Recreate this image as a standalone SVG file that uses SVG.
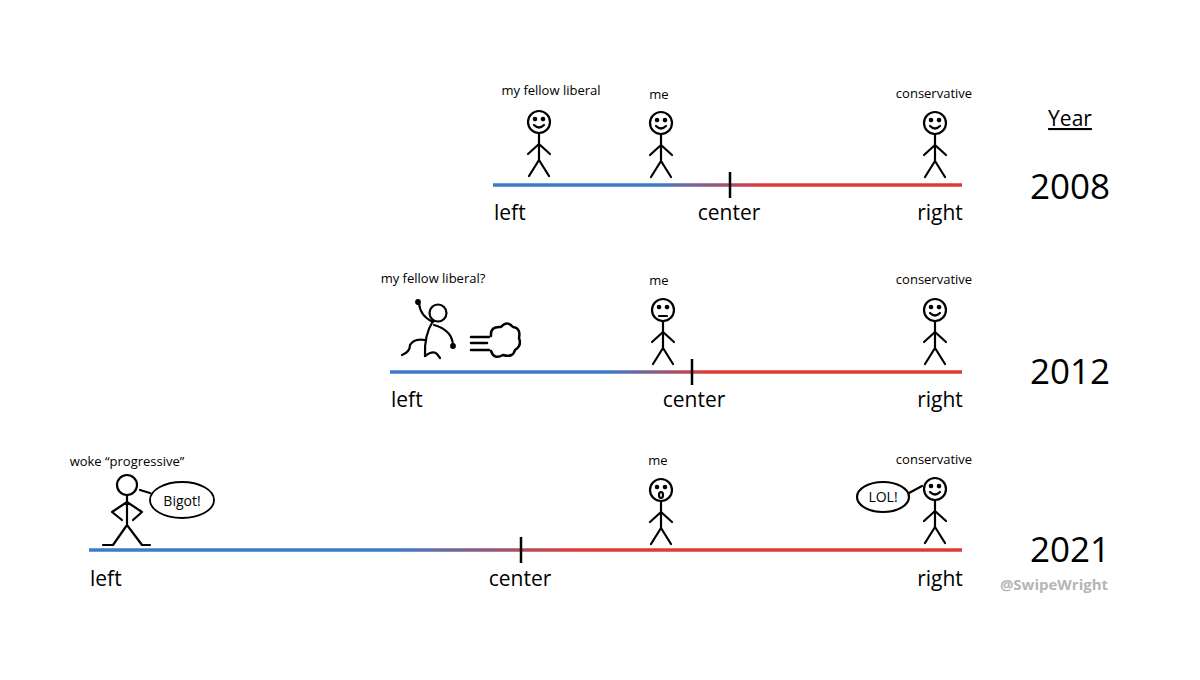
<svg xmlns="http://www.w3.org/2000/svg" width="1200" height="680" viewBox="0 0 1200 680">
<style>
text{font-family:"Open Sans","Liberation Sans",sans-serif;fill:#000}
.s{font-size:13px;text-anchor:middle}
.a{font-size:21px}
.m{text-anchor:middle}
.y{font-size:35px;text-anchor:middle}
.k{stroke:#000;stroke-width:2.2;fill:none;stroke-linecap:round;stroke-linejoin:round}
.ax{stroke-width:3.5;fill:none}
</style>
<defs>
<g id="fig" class="k"><circle r="11" cx="0" cy="0" fill="#fff"/><path d="M0,11V38M0,22L-11,32M0,22L11,32M0,38L-10,54M0,38L10,54"/><circle cx="-4" cy="-3" r="1.2" fill="#000"/><circle cx="4" cy="-3" r="1.2" fill="#000"/></g>
<path id="smile" class="k" d="M-5,3Q0,8 5,3"/>
<linearGradient id="g1" gradientUnits="userSpaceOnUse" x1="493" x2="962"><stop offset="0.35" stop-color="#3d7ac9"/><stop offset="0.58" stop-color="#e03a35"/></linearGradient>
<linearGradient id="g2" gradientUnits="userSpaceOnUse" x1="390" x2="962"><stop offset="0.38" stop-color="#3d7ac9"/><stop offset="0.56" stop-color="#e03a35"/></linearGradient>
<linearGradient id="g3" gradientUnits="userSpaceOnUse" x1="89" x2="962"><stop offset="0.35" stop-color="#3d7ac9"/><stop offset="0.56" stop-color="#e03a35"/></linearGradient>
</defs>
<rect width="1200" height="680" fill="#fff"/>
<g id="axes">
<line x1="493" y1="185" x2="962" y2="185" class="ax" stroke="url(#g1)"/>
<line x1="730" y1="172" x2="730" y2="198" stroke="#000" stroke-width="2.5"/>
<line x1="390" y1="372" x2="962" y2="372" class="ax" stroke="url(#g2)"/>
<line x1="692" y1="359" x2="692" y2="385" stroke="#000" stroke-width="2.5"/>
<line x1="89" y1="550" x2="962" y2="550" class="ax" stroke="url(#g3)"/>
<line x1="521" y1="537" x2="521" y2="563" stroke="#000" stroke-width="2.5"/>
</g>
<g id="labels">
<text x="1070" y="126" class="a m" text-decoration="underline">Year</text>
<text x="1070" y="199" class="y">2008</text>
<text x="1070" y="384" class="y">2012</text>
<text x="1070" y="562" class="y">2021</text>
<text x="494" y="220" class="a">left</text><text x="729" y="220" class="a m">center</text><text x="940" y="220" class="a m">right</text>
<text x="391" y="407" class="a">left</text><text x="694" y="407" class="a m">center</text><text x="940" y="407" class="a m">right</text>
<text x="90" y="586" class="a">left</text><text x="520" y="586" class="a m">center</text><text x="940" y="586" class="a m">right</text>
<text x="1054" y="590" class="m" style="font-size:15px;font-weight:bold;fill:#b5b5b5">@SwipeWright</text>
</g>
<g id="y2008">
<text x="551" y="95" class="s">my fellow liberal</text><use href="#fig" x="539" y="122"/><use href="#smile" x="539" y="122"/>
<text x="659" y="99" class="s">me</text><use href="#fig" x="661" y="123"/><use href="#smile" x="661" y="123"/>
<text x="934" y="98" class="s">conservative</text><use href="#fig" x="935" y="123"/><use href="#smile" x="935" y="123"/>
</g>
<g id="y2012">
<text x="433" y="283" class="s">my fellow liberal?</text>
<g class="k" stroke-width="3">
<circle cx="438" cy="313" r="8.5"/>
<path d="M433,321Q424,335 425,356"/>
<path d="M433,322Q420,316 419,303"/><circle cx="418" cy="302" r="1.8" fill="#000"/>
<path d="M434,325Q452,330 453,345"/><circle cx="453" cy="346" r="1.8" fill="#000"/>
<path d="M425,340Q414,338 410,345Q410,352 402,355"/>
<path d="M425,356Q433,350 437,354L440,358"/>
<path d="M471,337H489M471,343H487M471,350H489" stroke-width="2.5"/>
<path d="M491,336Q490,326 501,327Q507,320 513,327Q521,328 519,338Q522,346 515,350Q513,358 503,355Q494,360 491,351" stroke-width="2.5"/>
</g>
<text x="659" y="285" class="s">me</text><use href="#fig" x="663" y="310"/><path class="k" d="M659,316H667"/>
<text x="934" y="284" class="s">conservative</text><use href="#fig" x="935" y="310"/><use href="#smile" x="935" y="310"/>
</g>
<g id="y2021">
<text x="127" y="466" class="s">woke “progressive”</text>
<g class="k" stroke-width="2.6">
<circle cx="127" cy="485" r="10"/>
<path d="M127,495V525M127,502L112,512L122,520M127,502L142,512L133,520M127,525L113,545H103M127,525L142,545H150"/>
<path d="M140,490L150,493"/>
<ellipse cx="182" cy="500" rx="32" ry="18" stroke-width="1.8"/>
</g>
<text x="182" y="506" class="m" style="font-size:14px">Bigot!</text>
<text x="658" y="465" class="s">me</text><use href="#fig" x="661" y="490"/><ellipse class="k" cx="661" cy="495" rx="2" ry="3"/>
<text x="934" y="464" class="s">conservative</text><use href="#fig" x="935" y="489"/><use href="#smile" x="935" y="489"/>
<g class="k" stroke-width="1.8"><ellipse cx="883" cy="497" rx="26" ry="15"/><path d="M909,493L922,486"/></g>
<text x="883" y="502" class="m" style="font-size:14px">LOL!</text>
</g>
</svg>
